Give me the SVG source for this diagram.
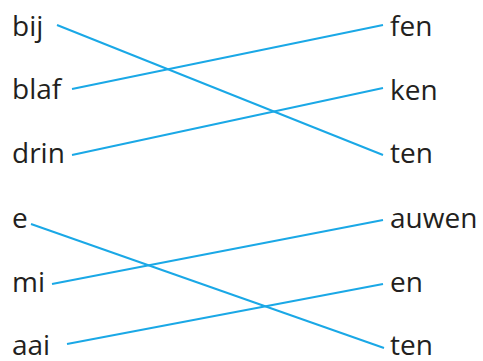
<svg xmlns="http://www.w3.org/2000/svg" width="483" height="361" viewBox="0 0 483 361">
<style>
text{font-family:"Open Sans","Noto Sans",sans-serif;font-size:28px;fill:#231f20}
.c line{stroke:#1aa8e6;stroke-width:2;stroke-linecap:butt}
</style>
<rect width="483" height="361" fill="#fff"/>
<g class="c" id="connectors">
<line x1="57" y1="25" x2="383" y2="155"/>
<line x1="72" y1="89" x2="383" y2="25"/>
<line x1="72" y1="155" x2="383" y2="88"/>
<line x1="31" y1="224" x2="384" y2="348"/>
<line x1="52" y1="284" x2="383" y2="220"/>
<line x1="67" y1="344" x2="383" y2="284"/>
</g>
<g id="l1"><text x="12" y="36">bij</text></g>
<g id="l2"><text x="12" y="99">blaf</text></g>
<g id="l3"><text x="12" y="163">drin</text></g>
<g id="l4"><text x="12" y="228">e</text></g>
<g id="l5"><text x="12" y="292">mi</text></g>
<g id="l6"><text x="12" y="355">aai</text></g>
<g id="r1"><text x="390" y="36">fen</text></g>
<g id="r2"><text x="390" y="100">ken</text></g>
<g id="r3"><text x="390" y="163">ten</text></g>
<g id="r4"><text x="390" y="228">auwen</text></g>
<g id="r5"><text x="390" y="292">en</text></g>
<g id="r6"><text x="390" y="355">ten</text></g>
</svg>
